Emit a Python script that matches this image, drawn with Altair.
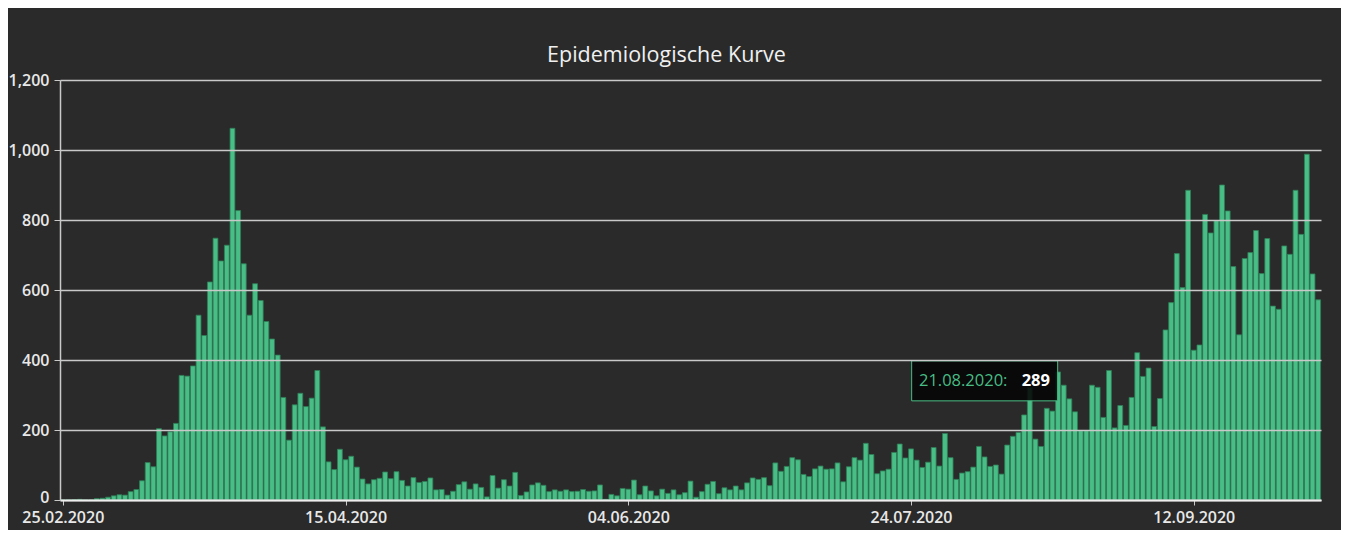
import altair as alt
import pandas as pd

# ---- data ----
start_date = "2020-02-25"
cases = [
    0, 0, 1, 2, 0, 0, 4, 5, 8, 12,
    15, 14, 24, 30, 55, 107, 95, 204, 183, 195,
    219, 356, 354, 383, 528, 470, 623, 748, 683, 728,
    1062, 827, 675, 528, 618, 570, 510, 460, 414, 293,
    171, 272, 305, 267, 291, 370, 209, 109, 87, 145,
    115, 125, 94, 60, 46, 58, 62, 80, 61, 81,
    56, 40, 64, 50, 53, 63, 29, 30, 14, 25,
    44, 52, 31, 46, 36, 9, 70, 34, 58, 40,
    79, 13, 23, 43, 49, 42, 24, 29, 25, 29,
    24, 25, 30, 25, 26, 43, 2, 16, 12, 33,
    31, 57, 15, 40, 26, 12, 31, 19, 29, 15,
    21, 54, 8, 24, 45, 53, 18, 35, 29, 40,
    29, 49, 63, 59, 64, 41, 106, 82, 96, 121,
    115, 73, 67, 89, 97, 88, 89, 106, 52, 95,
    121, 114, 162, 130, 75, 83, 88, 136, 160, 120,
    146, 114, 93, 108, 150, 97, 190, 121, 59, 77,
    81, 94, 153, 123, 96, 100, 74, 157, 182, 193,
    243, 321, 174, 153, 262, 254, 366, 328, 289, 252,
    198, 198, 328, 322, 236, 370, 206, 270, 213, 293,
    421, 353, 377, 210, 290, 486, 564, 704, 607, 885,
    428, 443, 816, 763, 798, 900, 826, 667, 472, 690,
    707, 770, 647, 747, 554, 545, 726, 702, 885, 759,
    988, 646, 572,
]
x_tick_dates = ["2020-02-25", "2020-04-15", "2020-06-04", "2020-07-24", "2020-09-12"]
y_ticks = [0, 200, 400, 600, 800, 1000, 1200]
title_text = "Epidemiologische Kurve"
tooltip_date = "2020-08-21"
tooltip_label = "21.08.2020:"
tooltip_value = 289

dates = pd.date_range(start_date, periods=len(cases), freq="D").strftime("%Y-%m-%d")
df = pd.DataFrame({"date": list(dates), "cases": cases})
tip_df = pd.DataFrame({"date": [tooltip_date], "cases": [tooltip_value],
                       "label": [tooltip_label], "val": [str(tooltip_value)]})

BG = "#2a2a2a"
GREEN = "#48bd85"
GRID = "#c9c9c9"
FONT = "Open Sans"
DAY = 86400000


def utc_dt(s, hours=0):
    y, m, d = (int(p) for p in s.split("-"))
    return alt.DateTime(year=y, month=m, date=d, hours=hours, utc=True)


first = pd.Timestamp(dates[0]) - pd.Timedelta(days=1)
last = pd.Timestamp(dates[-1])
x_scale = alt.Scale(
    type="utc",
    domain=[utc_dt(first.strftime("%Y-%m-%d"), 12), utc_dt(last.strftime("%Y-%m-%d"), 12)],
)
y_scale = alt.Scale(domain=[0, 1200], nice=False, zero=True, padding=0)

x_axis = alt.Axis(
    values=[utc_dt(s) for s in x_tick_dates],
    labelExpr="utcFormat(datum.value, '%d.%m.%Y')",
    labelAngle=0,
    grid=False,
    domainColor="#eeeeee",
    domainWidth=2,
    tickColor=GRID,
    tickSize=5,
    labelPadding=4,
    labelColor="#e8e8e8",
    labelFont=FONT,
    labelFontSize=16,
    labelFontWeight=600,
    zindex=1,
)
y_axis = alt.Axis(
    values=y_ticks,
    format=",d",
    grid=True,
    gridColor=GRID,
    gridWidth=1.3,
    domainColor=GRID,
    domainWidth=1.5,
    tickColor=GRID,
    tickSize=6,
    labelPadding=5,
    labelOffset={"condition": {"test": "datum.value === 0", "value": -3}, "value": 0},
    labelColor="#e8e8e8",
    labelFont=FONT,
    labelFontSize=16,
    labelFontWeight=600,
    zindex=1,
)

bars = (
    alt.Chart(df)
    .transform_calculate(
        x0=f"toDate(datum.date) - 0.43 * {DAY}",
        x1=f"toDate(datum.date) + 0.43 * {DAY}",
        base="0",
    )
    .mark_bar(color=GREEN, stroke="#2f7d57", strokeWidth=0.8)
    .encode(
        x=alt.X("x0:T", scale=x_scale, axis=x_axis, title=None),
        x2="x1:T",
        y=alt.Y("cases:Q", scale=y_scale, axis=y_axis, title=None),
        y2="base:Q",
    )
)

tip_base = alt.Chart(tip_df).transform_calculate(t="toDate(datum.date)")
tip_x = alt.X("t:T", scale=x_scale, axis=x_axis, title=None)
tip_y = alt.Y("cases:Q", scale=y_scale, axis=y_axis, title=None)

tip_box = tip_base.mark_rect(
    fill="#050505", fillOpacity=0.88, stroke=GREEN, strokeWidth=1,
    xOffset=-157.7, x2Offset=-11.7, yOffset=-38, y2Offset=2,
).encode(
    x=tip_x,
    x2="t:T",
    y=tip_y,
    y2="cases:Q",
)

tip_label = tip_base.mark_text(
    align="left", baseline="alphabetic", dx=-150.4, dy=-13.2,
    color=GREEN, font=FONT, fontSize=16.5,
).encode(x=tip_x, y=tip_y, text="label:N")

tip_val = tip_base.mark_text(
    align="right", baseline="alphabetic", dx=-19.4, dy=-13.2,
    color="#ffffff", font=FONT, fontSize=16.5, fontWeight="bold",
).encode(x=tip_x, y=tip_y, text="val:N")

chart = (
    alt.layer(bars, tip_box, tip_label, tip_val)
    .properties(
        width=1261,
        height=420,
        background=BG,
        padding={"left": 52, "top": 72, "right": 20, "bottom": 30},
        autosize=alt.AutoSizeParams(type="none"),
        title=alt.TitleParams(
            title_text, color="#f0f0f0", font=FONT, fontSize=21.5,
            fontWeight="normal", anchor="middle", dx=-24, offset=-11,
            baseline="alphabetic",
        ),
    )
    .configure_view(strokeWidth=0)
)

chart.save("out.html", embed_options={"renderer": "svg", "actions": False})
